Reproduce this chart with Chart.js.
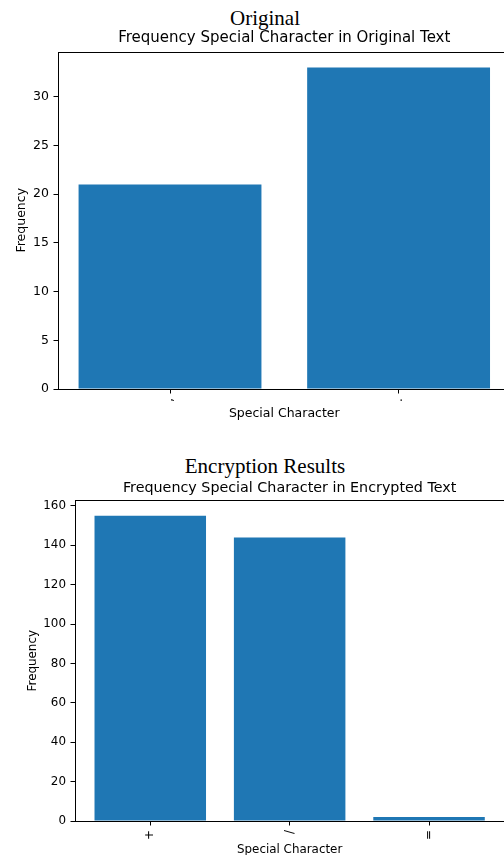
<!DOCTYPE html>
<html lang="en">

<head>
  <meta charset="UTF-8">
  <meta name="viewport" content="width=device-width, initial-scale=1.0">
  <title>Special Character Frequency</title>
  <script src="https://cdn.jsdelivr.net/npm/chart.js"></script>
  <style>
    body {
      margin: 0;
      width: 504px;
      height: 855px;
      overflow: hidden;
      position: relative;
      background: #fff;
    }

    .suptitulo {
      position: absolute;
      left: 0;
      width: 530px;
      text-align: center;
      font-family: "Liberation Serif", serif;
      font-size: 21px;
      line-height: 21px;
      color: #000;
    }

    canvas {
      position: absolute;
      left: 0;
    }
  </style>
</head>

<body>
  <div class="suptitulo" style="top: 8px">Original</div>
  <canvas id="grafico1" width="512" height="396" style="top: 26px"></canvas>

  <div class="suptitulo" style="top: 456px">Encryption Results</div>
  <canvas id="grafico2" width="506" height="382" style="top: 476px"></canvas>
</body>

</html>

<script>
  // dados
  const caracteres_original = [',', '.'];
  const frequencia_original = [21, 33];
  const passo_y_original = 5;

  const caracteres_encriptado = ['+', '/', '='];
  const frequencia_encriptado = [155, 144, 2];
  const passo_y_encriptado = 20;

  Chart.defaults.font.family = 'DejaVu Sans';
  Chart.defaults.color = '#000';

  // caixa em volta da area do grafico (as 4 bordas)
  const moldura = {
    id: 'moldura',
    afterDraw(chart) {
      const { ctx, chartArea } = chart;
      const l = Math.round(chartArea.left);
      const t = Math.round(chartArea.top);
      const r = Math.round(chartArea.right);
      const b = Math.round(chartArea.bottom);
      ctx.save();
      ctx.strokeStyle = '#000';
      ctx.lineWidth = 1;
      ctx.strokeRect(l + 0.5, t + 0.5, r - l, b - t);
      ctx.restore();
    }
  };

  function criarGrafico(id, titulo, caracteres, frequencias, passoY, medidas) {
    const n = caracteres.length;
    // margem igual a do matplotlib (barra de 0.8 + 5%)
    const borda = 0.4 + 0.05 * (n - 0.2);
    const maximo = Math.max(...frequencias) * 1.05;
    const fonte = { family: 'DejaVu Sans', size: medidas.fonte };

    const dados = frequencias.map((f, i) => ({ x: i, y: f }));

    const config = {
      type: 'bar',
      data: {
        datasets: [{
          data: dados,
          backgroundColor: '#1f77b4',
          borderWidth: 0,
          barPercentage: 0.8,
          categoryPercentage: 1
        }]
      },
      options: {
        responsive: false,
        animation: false,
        layout: { padding: medidas.padding },
        plugins: {
          legend: { display: false },
          tooltip: { enabled: false },
          title: {
            display: true,
            text: titulo,
            fullSize: false,
            color: '#000',
            font: { family: 'DejaVu Sans', size: medidas.fonteTitulo, weight: 'normal' },
            padding: { top: medidas.tituloTopo, bottom: medidas.tituloBaixo }
          }
        },
        scales: {
          x: {
            type: 'linear',
            min: -borda,
            max: n - 1 + borda,
            offset: false,
            afterFit: (s) => { s.height = medidas.alturaX; },
            grid: { display: true, drawOnChartArea: false, offset: false, tickLength: 4.5, color: '#000', lineWidth: 1 },
            border: { display: false },
            ticks: {
              stepSize: 1,
              includeBounds: false,
              autoSkip: false,
              minRotation: 90,
              maxRotation: 90,
              padding: 4.5,
              color: '#000',
              font: fonte,
              callback: (v) => caracteres[v]
            },
            title: { display: true, text: 'Special Character', color: '#000', font: fonte, padding: { top: 0, bottom: 0 } }
          },
          y: {
            min: 0,
            max: maximo,
            afterFit: (s) => { s.width = medidas.larguraY; },
            grid: { display: true, drawOnChartArea: false, tickLength: 4.5, color: '#000', lineWidth: 1 },
            border: { display: false },
            ticks: { stepSize: passoY, includeBounds: false, padding: 4.5, color: '#000', font: fonte },
            title: { display: true, text: 'Frequency', color: '#000', font: fonte, padding: { top: medidas.tituloY, bottom: 0 } }
          }
        }
      },
      plugins: [moldura]
    };

    return new Chart(document.getElementById(id), config);
  }

  criarGrafico('grafico1', 'Frequency Special Character in Original Text',
    caracteres_original, frequencia_original, passo_y_original, {
      padding: { left: 0, right: 1.4, top: 0, bottom: 0.5 },
      fonte: 12.5, fonteTitulo: 15,
      tituloTopo: 3.5, tituloBaixo: 4.0,
      alturaX: 32.5, larguraY: 58, tituloY: 14.2
    });

  criarGrafico('grafico2', 'Frequency Special Character in Encrypted Text',
    caracteres_encriptado, frequencia_encriptado, passo_y_encriptado, {
      padding: { left: 0, right: 1.7, top: 0, bottom: 0.5 },
      fonte: 11.9, fonteTitulo: 14.3,
      tituloTopo: 3.9, tituloBaixo: 3.4,
      alturaX: 36.5, larguraY: 75, tituloY: 25.7
    });
</script>
